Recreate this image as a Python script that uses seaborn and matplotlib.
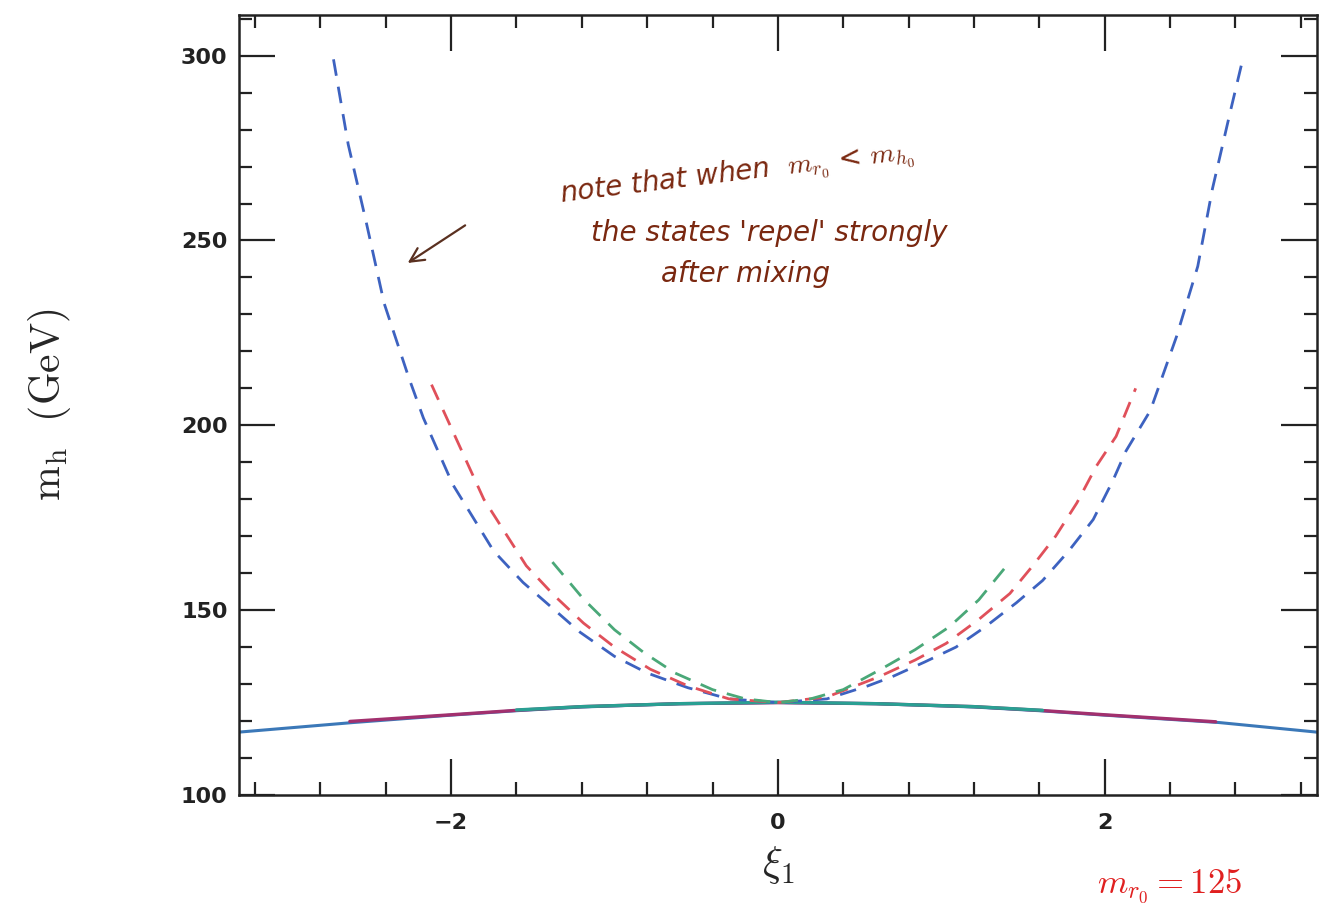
import matplotlib
matplotlib.use("Agg")
import matplotlib.pyplot as plt
import seaborn as sns
from matplotlib.ticker import MultipleLocator

# dashed (heavier state) curves
blue_dash_x = [-2.72, -2.63, -2.52, -2.41, -2.26, -2.17, -1.99, -1.74, -1.56, -1.21, -1.00, -0.80,
               -0.55, -0.30, 0.0, 0.30, 0.55, 0.70, 0.90, 1.09, 1.27, 1.46, 1.62, 1.78, 1.93, 2.05,
               2.13, 2.28, 2.44, 2.57, 2.66, 2.77, 2.84]
blue_dash_y = [299, 276, 255, 233, 213, 202, 184, 166, 157.5, 144, 137.5, 133,
               129, 126, 125, 126, 129.5, 132, 136, 140, 145.5, 152, 158, 166, 174.5, 185,
               193, 204, 224, 243, 264, 285, 298]

red_dash_x = [-2.12, -1.80, -1.54, -1.37, -1.19, -1.00, -0.78, -0.55, -0.30, 0.0, 0.30, 0.62,
              0.84, 1.03, 1.23, 1.42, 1.56, 1.70, 1.83, 1.95, 2.07, 2.19]
red_dash_y = [211, 180, 162, 154, 146.5, 140, 134, 129.5, 126, 125, 126.5, 132,
              136.5, 141, 147.5, 154.5, 162, 170, 179, 189, 197, 210]

green_dash_x = [-1.38, -1.19, -1.00, -0.82, -0.63, -0.40, -0.20, 0.0, 0.20, 0.40, 0.63, 0.84,
                1.05, 1.23, 1.40]
green_dash_y = [163, 153, 144.7, 138.5, 133, 128.5, 126, 125, 126, 128.5, 134, 139.3,
                145.5, 152.8, 162]

# solid (light state) curves
blue_solid_x = [-3.3, -2.6, -2.0, -1.6, -1.2, -0.6, 0.0, 0.6, 1.2, 1.6, 2.0, 2.7, 3.3]
blue_solid_y = [117.0, 119.6, 121.6, 122.8, 123.8, 124.7, 125.0, 124.7, 123.8, 122.8, 121.6, 119.6, 117.0]
mag_solid_x = [-2.62, -2.0, -1.6, -1.2, -0.6, 0.0, 0.6, 1.2, 1.6, 2.0, 2.68]
mag_solid_y = [119.9, 121.7, 122.9, 123.9, 124.7, 125.0, 124.7, 123.9, 122.9, 121.7, 119.8]
teal_solid_x = [-1.6, -1.2, -0.6, 0.0, 0.6, 1.2, 1.62]
teal_solid_y = [123.0, 123.9, 124.7, 125.1, 124.7, 123.9, 122.9]

x_ticks = [-2, 0, 2]
x_ticklabels = ["\u22122", "0", "2"]

sns.set_theme(style="ticks")
plt.rcParams["mathtext.fontset"] = "cm"

fig = plt.figure(figsize=(13.19, 9.07), dpi=100)
ax = fig.add_axes([0.181, 0.1235, 0.8175, 0.86])

sns.lineplot(x=blue_solid_x, y=blue_solid_y, ax=ax, color="#3b78b8", lw=2.2, sort=False, estimator=None)
sns.lineplot(x=mag_solid_x, y=mag_solid_y, ax=ax, color="#a2306e", lw=2.4, sort=False, estimator=None)
sns.lineplot(x=teal_solid_x, y=teal_solid_y, ax=ax, color="#2a9f93", lw=2.4, sort=False, estimator=None)

dash = (0, (6, 4))
sns.lineplot(x=blue_dash_x, y=blue_dash_y, ax=ax, color="#3d62c0", lw=2.0, linestyle=dash, sort=False, estimator=None)
sns.lineplot(x=red_dash_x, y=red_dash_y, ax=ax, color="#e0505a", lw=2.0, linestyle=dash, sort=False, estimator=None)
sns.lineplot(x=green_dash_x, y=green_dash_y, ax=ax, color="#4aa878", lw=2.0, linestyle=dash, sort=False, estimator=None)

ax.set_xlim(-3.3, 3.3)
ax.set_ylim(100, 311)
ax.set_xticks(x_ticks)
ax.set_xticklabels(x_ticklabels)
ax.xaxis.set_minor_locator(MultipleLocator(0.4))
ax.yaxis.set_major_locator(MultipleLocator(50))
ax.yaxis.set_minor_locator(MultipleLocator(10))
ax.tick_params(which="both", direction="in", top=True, right=True, width=1.6, color="#222222")
ax.tick_params(which="major", length=26)
ax.tick_params(which="minor", length=9.5)
ax.tick_params(axis="x", which="major", pad=13)
ax.tick_params(axis="y", which="major", pad=8)
for lab in ax.get_xticklabels() + ax.get_yticklabels():
    lab.set_fontsize(16)
    lab.set_fontweight("bold")
    lab.set_color("#222222")
for spine in ax.spines.values():
    spine.set_linewidth(1.8)
    spine.set_color("#222222")

ax.set_xlabel(r"$\xi_1$", fontsize=30, labelpad=8)
ax.set_ylabel(r"$\mathrm{m_h}\ \ \mathrm{(GeV)}$", fontsize=30, labelpad=78)

# handwritten note
note_color = "#7a2810"
ax.text(-0.25, 268, r"note that when  $m_{r_0}$ < $m_{h_0}$", color=note_color, fontsize=20,
        style="italic", rotation=7, ha="center", va="center")
ax.text(-0.05, 252, "the states 'repel' strongly", color=note_color, fontsize=20,
        style="italic", ha="center", va="center")
ax.text(-0.2, 241, "after mixing", color=note_color, fontsize=20,
        style="italic", ha="center", va="center")
ax.annotate("", xy=(-2.28, 243.5), xytext=(-1.9, 254.5),
            arrowprops=dict(arrowstyle="->", color="#5a3020", lw=1.6, mutation_scale=25))

fig.text(0.832, 0.001, r"$m_{r_0} = 125$", color="#e02020", fontsize=25, ha="left", va="bottom")

fig.savefig("out.png", dpi=100)
